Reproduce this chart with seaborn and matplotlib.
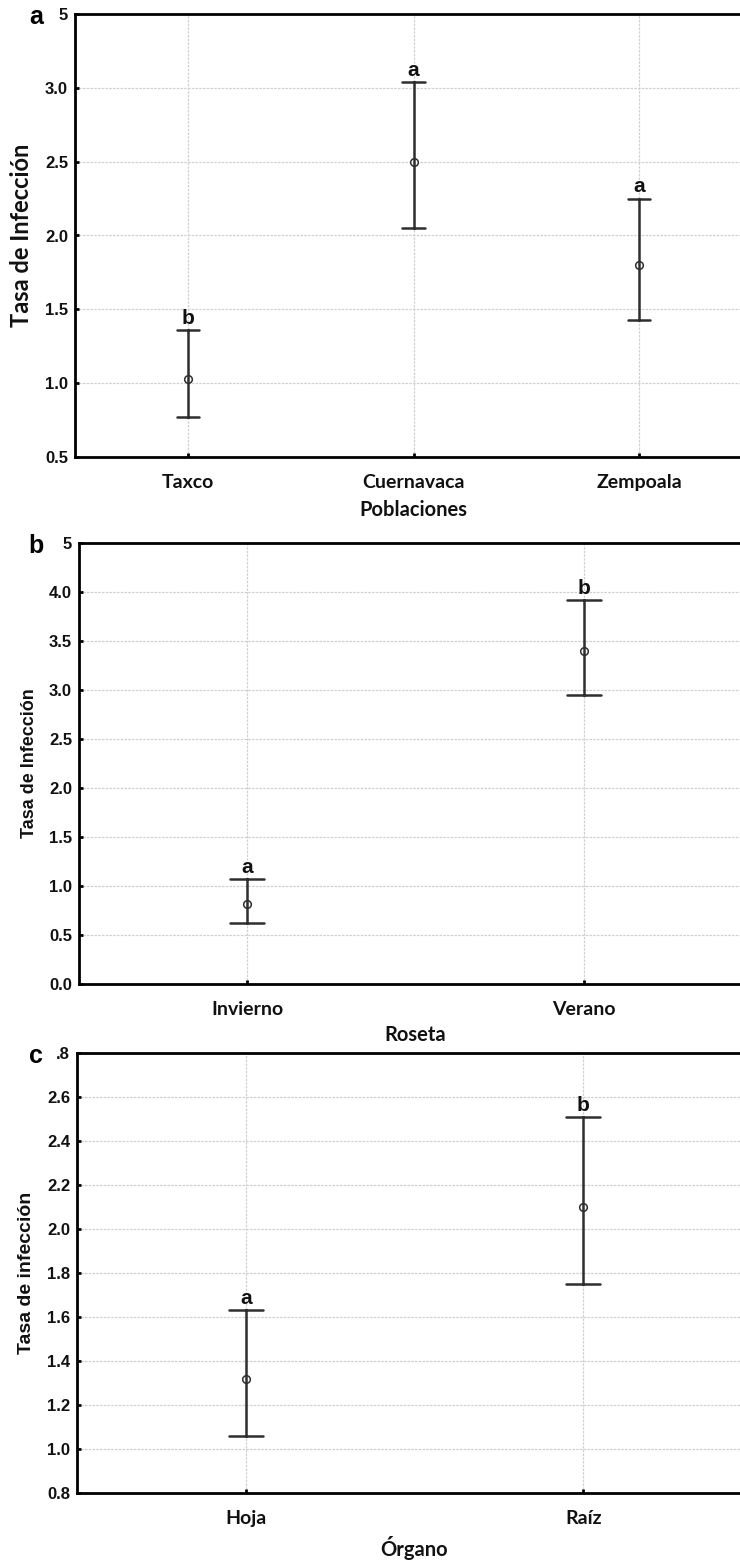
import numpy as np
import pandas as pd
import matplotlib
matplotlib.use("Agg")
import matplotlib.pyplot as plt
import seaborn as sns

# ---------------- data ----------------
pob_cats = ["Taxco", "Cuernavaca", "Zempoala"]
pob_mean = [1.03, 2.50, 1.80]
pob_low = [0.77, 2.05, 1.43]
pob_high = [1.36, 3.04, 2.25]
pob_letters = ["b", "a", "a"]
pob_yticks = [0.5, 1.0, 1.5, 2.0, 2.5, 3.0, 3.5]
pob_yticklabels = ["0.5", "1.0", "1.5", "2.0", "2.5", "3.0", "5"]

ros_cats = ["Invierno", "Verano"]
ros_mean = [0.82, 3.40]
ros_low = [0.62, 2.95]
ros_high = [1.07, 3.92]
ros_letters = ["a", "b"]
ros_yticks = [0.0, 0.5, 1.0, 1.5, 2.0, 2.5, 3.0, 3.5, 4.0, 4.5]
ros_yticklabels = ["0.0", "0.5", "1.0", "1.5", "2.0", "2.5", "3.0", "3.5", "4.0", "5"]

org_cats = ["Hoja", "Raíz"]
org_mean = [1.32, 2.10]
org_low = [1.06, 1.75]
org_high = [1.63, 2.51]
org_letters = ["a", "b"]
org_yticks = [0.8, 1.0, 1.2, 1.4, 1.6, 1.8, 2.0, 2.2, 2.4, 2.6, 2.8]
org_yticklabels = ["0.8", "1.0", "1.2", "1.4", "1.6", "1.8", "2.0", "2.2", "2.4", "2.6", ".8"]

panels = [
    dict(cats=pob_cats, mean=pob_mean, low=pob_low, high=pob_high, letters=pob_letters,
         yticks=pob_yticks, yticklabels=pob_yticklabels, xlabel="Poblaciones",
         ylabel="Tasa de Infección", tag="a",
         pos=[75, 14, 752, 457], ylabfont=("Lato", 17), ylabx=22, xlabpad=7),
    dict(cats=ros_cats, mean=ros_mean, low=ros_low, high=ros_high, letters=ros_letters,
         yticks=ros_yticks, yticklabels=ros_yticklabels, xlabel="Roseta",
         ylabel="Tasa de Infección", tag="b",
         pos=[79, 543, 752, 984], ylabfont=("Liberation Sans", 13), ylabx=30, xlabpad=5),
    dict(cats=org_cats, mean=org_mean, low=org_low, high=org_high, letters=org_letters,
         yticks=org_yticks, yticklabels=org_yticklabels, xlabel="Órgano",
         ylabel="Tasa de infección", tag="c",
         pos=[77, 1053, 752, 1493], ylabfont=("Liberation Sans", 14), ylabx=27, xlabpad=7),
]

# ---------------- style ----------------
sns.set_theme(style="white")
plt.rcParams["font.family"] = ["Liberation Sans", "DejaVu Sans"]

W, H = 740, 1568
fig = plt.figure(figsize=(W / 100, H / 100), dpi=100)
fig.patch.set_facecolor("white")

ink = "#2e2e2e"

for p in panels:
    x0, y0, x1, y1 = p["pos"]
    ax = fig.add_axes([x0 / W, 1 - y1 / H, (x1 - x0) / W, (y1 - y0) / H])

    rows = []
    for c, lo, m, hi in zip(p["cats"], p["low"], p["mean"], p["high"]):
        for v in (lo, m, hi):
            rows.append({"cat": c, "val": v})
    df = pd.DataFrame(rows)

    sns.pointplot(data=df, x="cat", y="val", order=p["cats"], ax=ax,
                  estimator="median", errorbar=lambda v: (v.min(), v.max()),
                  linestyle="none", markers="o", capsize=0.1, color=ink,
                  err_kws={"linewidth": 1.8, "color": ink},
                  markersize=5.5, markerfacecolor="white",
                  markeredgecolor=ink, markeredgewidth=1.1, zorder=5)

    for i, (hi, lab) in enumerate(zip(p["high"], p["letters"])):
        ax.annotate(lab, (i, hi), xytext=(0, 1.5), textcoords="offset points",
                    ha="center", va="bottom", fontsize=15, fontweight="bold",
                    family=["Liberation Sans", "DejaVu Sans"], color="#111111")

    ax.set_xlim(-0.5, len(p["cats"]) - 0.5)
    ax.set_ylim(p["yticks"][0], p["yticks"][-1])
    ax.set_yticks(p["yticks"])
    ax.set_yticklabels(p["yticklabels"], fontsize=12, fontweight="bold",
                       family=["Liberation Sans", "DejaVu Sans"], color="#111111")
    ax.set_xticks(range(len(p["cats"])))
    ax.set_xticklabels(p["cats"], fontsize=14, fontweight="bold",
                       family=["Lato", "DejaVu Sans"], color="#111111")

    ax.grid(True, color="#d0d0d0", linestyle=(0, (2, 1)), linewidth=0.9, zorder=0)
    ax.set_axisbelow(True)
    for s in ax.spines.values():
        s.set_visible(True)
        s.set_color("black")
        s.set_linewidth(2.0)

    ax.tick_params(axis="both", direction="in", length=3, width=2, color="black",
                   left=True, bottom=True, pad=5)
    ax.tick_params(axis="x", pad=12)

    ax.set_xlabel(p["xlabel"], fontsize=14.5, fontweight="bold",
                  family=["Lato", "DejaVu Sans"], color="#111111", labelpad=p["xlabpad"])
    ax.set_ylabel("")
    fam, sz = p["ylabfont"]
    cy = 1 - (y0 + y1) / 2 / H
    fig.text(p["ylabx"] / W, cy, p["ylabel"], rotation=90, ha="center", va="center",
             fontsize=sz, fontweight="bold", family=[fam, "DejaVu Sans"], color="#111111")

    fig.text(36 / W, 1 - (y0 + 3) / H, p["tag"], ha="center", va="center",
             fontsize=18, fontweight="bold", family=["Liberation Sans", "DejaVu Sans"],
             color="black")

fig.savefig("out.png", dpi=100, facecolor="white")
